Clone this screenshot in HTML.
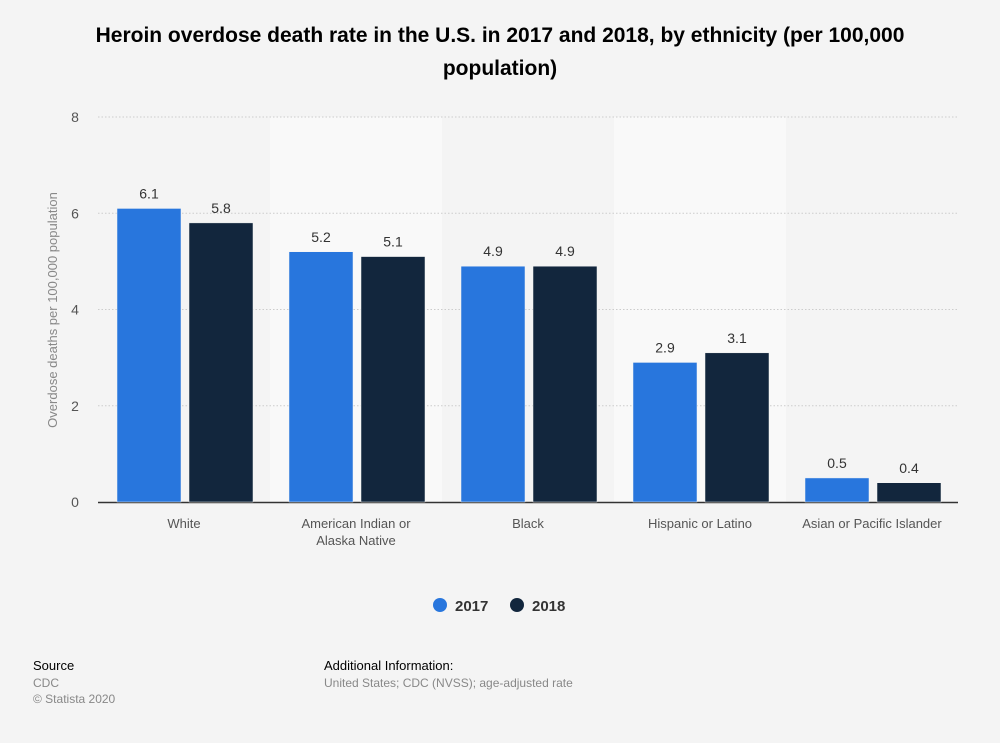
<!DOCTYPE html>
<html><head><meta charset="utf-8"><style>
body{margin:0;background:#f4f4f4;font-family:"Liberation Sans",sans-serif;}
#wrap{position:relative;width:1000px;height:743px;overflow:hidden;background:#f4f4f4;}
</style></head><body>
<div id="wrap">
<svg id="chart" width="1000" height="743">
<text x="500" y="42" text-anchor="middle" font-size="21" font-weight="bold" fill="#000">Heroin overdose death rate in the U.S. in 2017 and 2018, by ethnicity (per 100,000</text>
<text x="500" y="75" text-anchor="middle" font-size="21" font-weight="bold" fill="#000">population)</text>
<g id="bands"></g><g id="grid"></g><g id="bars"></g>
<text transform="translate(57,310) rotate(-90)" text-anchor="middle" font-size="13" fill="#888">Overdose deaths per 100,000 population</text>
<g>
<circle cx="440" cy="605" r="7" fill="#2876dd"/>
<text x="455" y="611" font-size="15" font-weight="bold" fill="#333">2017</text>
<circle cx="517" cy="605" r="7" fill="#12263d"/>
<text x="532" y="611" font-size="15" font-weight="bold" fill="#333">2018</text>
</g>
<text x="33" y="670" font-size="13" fill="#000">Source</text>
<text x="33" y="687" font-size="12" fill="#888">CDC</text>
<text x="33" y="703" font-size="12" fill="#888">© Statista 2020</text>
<text x="324" y="670" font-size="13" fill="#000">Additional Information:</text>
<text x="324" y="687" font-size="12" fill="#888">United States; CDC (NVSS); age-adjusted rate</text>
</svg></div>
<script>
const categories=[["White"],["American Indian or","Alaska Native"],["Black"],["Hispanic or Latino"],["Asian or Pacific Islander"]];
const values2017=[6.1,5.2,4.9,2.9,0.5];
const values2018=[5.8,5.1,4.9,3.1,0.4];
const yTicks=[0,2,4,6,8];
const NS="http://www.w3.org/2000/svg";
const X0=98,X1=958,Y0=502,Y8=117,YMAX=8;
const bw=(X1-X0)/categories.length;
const y=v=>Y0-(v/YMAX)*(Y0-Y8);
const bandX=i=>X0+i*bw;
function mk(tag,attrs,parent,txt){const e=document.createElementNS(NS,tag);for(const k in attrs)e.setAttribute(k,attrs[k]);if(txt!==undefined)e.textContent=txt;document.getElementById(parent).appendChild(e);return e;}
categories.forEach((c,i)=>{if(i%2===1){const r=mk('rect',{x:bandX(i),y:Y8,width:bw,height:Y0-Y8,fill:'#f9f9f9'},'bands');

}});
yTicks.forEach(t=>{if(t>0){const l=mk('line',{x1:X0,x2:X1,y1:y(t),y2:y(t),stroke:'#ccc','stroke-dasharray':'1.5,2'},'grid');

}
const tx=mk('text',{x:75,y:y(t)+5,'text-anchor':'middle','font-size':14,fill:'#555'},'grid',String(t));

});
const ax=mk('line',{x1:X0,x2:X1,y1:Y0+0.5,y2:Y0+0.5,stroke:'#333','stroke-width':1.5},'grid');


const barW=64,off=19,gap=8;
categories.forEach((c,i)=>{
[[values2017,'#2876dd','2017'],[values2018,'#12263d','2018']].forEach((s,j)=>{
const v=s[0][i];const bx=bandX(i)+off+j*(barW+gap);
const r=mk('rect',{x:bx,y:y(v),width:barW,height:Y0-y(v),fill:s[1],stroke:'#f4f4f4','stroke-width':0.5},'bars');


const t=mk('text',{x:bx+barW/2,y:y(v)-10,'text-anchor':'middle','font-size':14,fill:'#333'},'bars',v.toFixed(1));

});
c.forEach((ln,k)=>{const t=mk('text',{x:bandX(i)+bw/2,y:528+k*17,'text-anchor':'middle','font-size':13,fill:'#555'},'bars',ln);

});});
</script>
</body></html>
